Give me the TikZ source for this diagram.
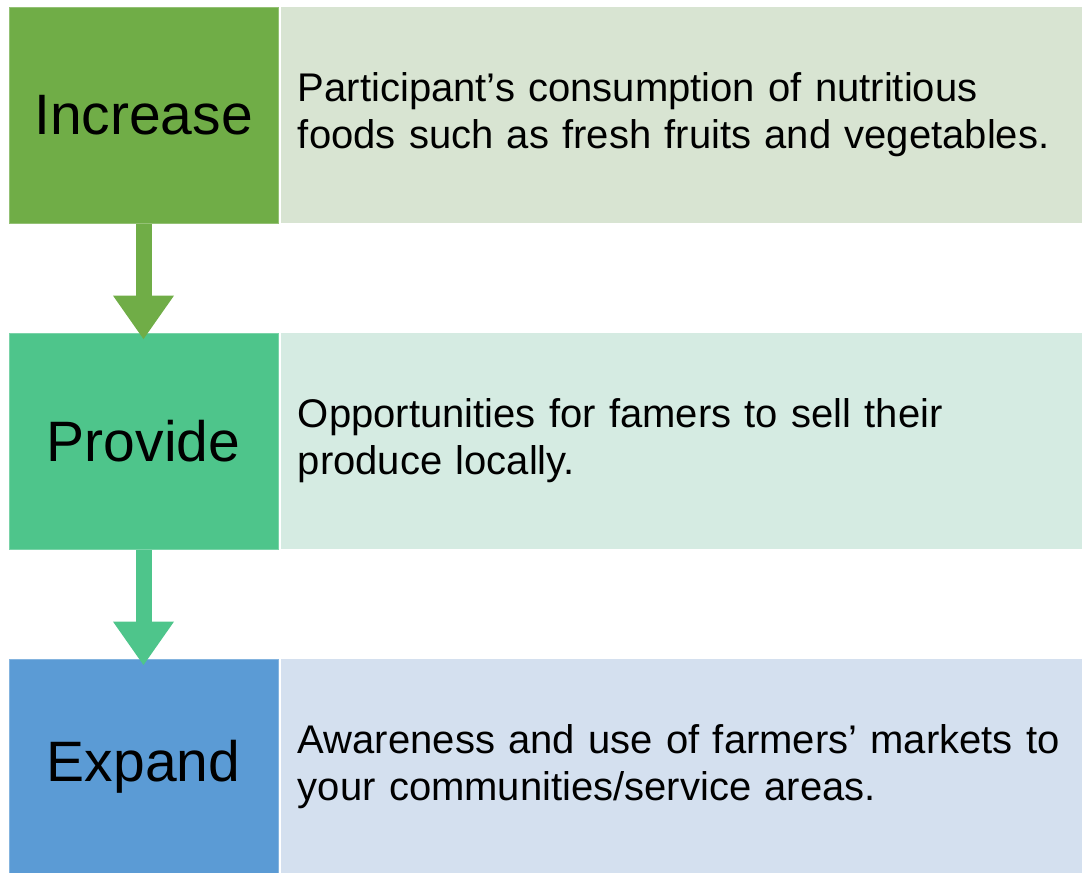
\documentclass[tikz,border=0pt]{standalone}
\usepackage{fontspec}
\setmainfont{Liberation Sans}
\usetikzlibrary{arrows.meta,positioning}
\definecolor{verde}{HTML}{70AD47}
\definecolor{menta}{HTML}{4EC58B}
\definecolor{azul}{HTML}{5B9BD5}
\definecolor{verdec}{HTML}{D8E4D2}
\definecolor{mentac}{HTML}{D5EBE2}
\definecolor{azulc}{HTML}{D4E0EF}

\begin{document}
\begin{tikzpicture}[x=0.5pt,y=-0.5pt,
    izq/.style={minimum width=134.5pt,minimum height=108pt,inner sep=0pt,font=\fontsize{28.5}{34}\selectfont},
    der/.style={minimum height=108pt,text width=392pt,inner xsep=8.5pt,inner ysep=0pt,align=left,font=\fontsize{20}{23.5}\selectfont},
    flecha/.style={line width=8pt,-{Triangle[width=29pt,length=22pt]},shorten >=-3.5pt}]
        \useasboundingbox (0,0) rectangle (1082,873);
        % filas
        \foreach \n/\c/\f/\y/\a/\b in {inc/verde/verdec/115/Increase/{Participant’s consumption of nutritious\\foods such as fresh fruits and vegetables.},
            prov/menta/mentac/441/Provide/{Opportunities for famers to sell their\\produce locally.},
            exp/azul/azulc/767/Expand/{Awareness and use of farmers’ markets to\\your communities/service areas.}}{
          \node[izq,fill=\c,draw=\c!75!white,line width=0.5pt] (\n) at (143.5,\y) {\a};
          \node[der,fill=\f,right=1pt of \n] (\n-t) {\b};
        }
        % flechas
        \draw[flecha,verde] (inc) -- (prov);
        \draw[flecha,menta] (prov) -- (exp);
      \end{tikzpicture}
\end{document}
